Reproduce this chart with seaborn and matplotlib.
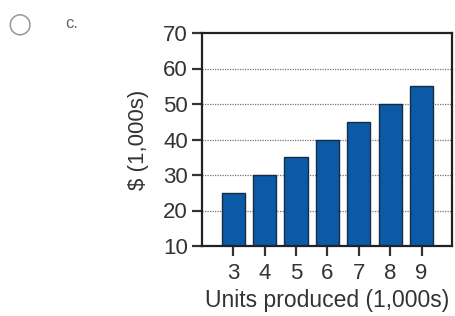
import matplotlib
matplotlib.use("Agg")
import matplotlib.pyplot as plt
import seaborn as sns
import pandas as pd

sns.set_style("white")
plt.rcParams['font.family'] = ['Liberation Sans', 'DejaVu Sans']

units = ['3', '4', '5', '6', '7', '8', '9']
dollars = [25, 30, 35, 40, 45, 50, 55]
y_ticks = [10, 20, 30, 40, 50, 60, 70]

df = pd.DataFrame({'units': units, 'dollars': dollars})

fig = plt.figure(figsize=(4.56, 3.16), dpi=100)
ax = fig.add_axes([202 / 456, 1 - 246 / 316, 250 / 456, 213 / 316])

# dotted gridlines behind bars
for yv in y_ticks[1:-1]:
    ax.axhline(yv, color='#777777', linestyle=(0, (1, 1)), linewidth=0.9, zorder=0)

sns.barplot(data=df, x='units', y='dollars', color='#0a5aa8', width=0.74,
            edgecolor='#1a2a40', linewidth=1.0, saturation=1, ax=ax, zorder=2)

ax.set_ylim(10, 70)
ax.set_xlim(-1.0, 6.97)
ax.set_yticks(y_ticks)
for s in ax.spines.values():
    s.set_color('#222222')
    s.set_linewidth(1.6)
ax.tick_params(axis='both', direction='out', length=7, width=1.6, color='#333333',
               labelsize=16, labelcolor='#333333', left=True, bottom=True, pad=3)
ax.tick_params(axis='x', pad=5)
ax.set_xlabel('Units produced (1,000s)', fontsize=16.5, color='#333333', labelpad=4)
ax.set_ylabel('$ (1,000s)', fontsize=16, color='#333333', labelpad=10)

fig.text(20 / 456, 1 - 23 / 316, '\u25cb', fontsize=20, color='#9a9a9a',
         ha='center', va='center', family=['DejaVu Sans'])
fig.text(65 / 456, 1 - 24 / 316, 'c.', fontsize=12, color='#666666',
         ha='left', va='center')

fig.savefig('out.png', dpi=100)
